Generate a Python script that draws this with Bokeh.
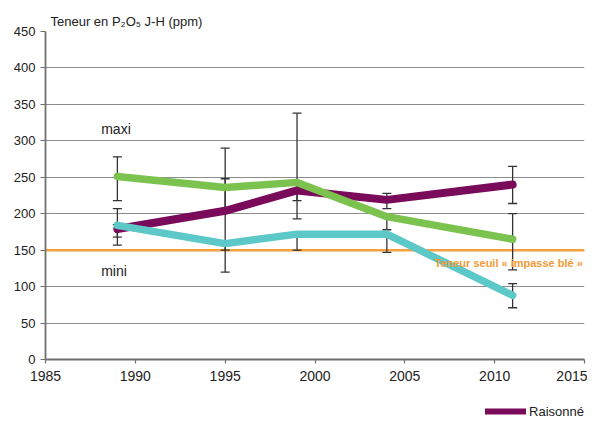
from bokeh.plotting import figure
from bokeh.layouts import column
from bokeh.models import (Range1d, FixedTicker, Span, Label, Legend, LegendItem,
                          Whisker, ColumnDataSource, TeeHead)
from bokeh.embed import file_html
from bokeh.resources import INLINE

# ---- data ----
years = [1989, 1995, 1999, 2004, 2011]
raisonne = [179, 204, 232, 219, 240]          # purple
green_series = [251, 236, 243, 196, 165]      # green
cyan_series = [184, 159, 172, 172, 88]        # cyan

raisonne_low = [168, 150, 193, 207, 214]
raisonne_high = [207, 248, 245, 228, 265]
green_low = [218, 205, 218, 178, 123]
green_high = [278, 290, 338, 198, 200]
cyan_low = [157, 120, 150, 147, 71]
cyan_high = [185, 160, 175, 172, 104]

threshold = 150
threshold_label = "Teneur seuil « impasse blé »"
y_title = "Teneur en P₂O₅ J-H (ppm)"
legend_label = "Raisonné"
x_ticks = [1985, 1990, 1995, 2000, 2005, 2010, 2015]
y_ticks = [0, 50, 100, 150, 200, 250, 300, 350, 400, 450]

FONT = "Liberation Sans"
PURPLE = "#7a0a5a"
GREEN = "#7cc24e"
CYAN = "#5cc8c8"
ORANGE = "#f6a03e"
AXIS = "#707070"
TXT = "#222222"

p = figure(frame_width=539, frame_height=328, output_backend="svg", toolbar_location=None,
           x_range=Range1d(1985, 2015), y_range=Range1d(0, 450),
           min_border_left=45, min_border_right=3, min_border_top=31,
           min_border_bottom=0)
p.title.text = y_title
p.title.text_font = FONT
p.title.text_font_size = "13px"
p.title.text_font_style = "normal"
p.title.text_color = TXT
p.title.align = "left"
p.title.offset = 5
p.title.standoff = 5
p.outline_line_color = None
p.background_fill_color = "white"

# grid
p.xgrid.grid_line_color = None
p.ygrid.grid_line_color = "#8c8c8c"
p.ygrid.grid_line_width = 1.2

# axes
p.xaxis.ticker = FixedTicker(ticks=x_ticks)
p.yaxis.ticker = FixedTicker(ticks=y_ticks)
for ax in (p.xaxis[0], p.yaxis[0]):
    ax.axis_line_color = AXIS
    ax.axis_line_width = 1.8
    ax.major_tick_line_color = AXIS
    ax.major_tick_line_width = 1.2
    ax.major_tick_in = 0
    ax.minor_tick_line_color = None
    ax.major_label_text_font = FONT
    ax.major_label_text_color = TXT
p.xaxis.major_tick_out = 4
p.yaxis.major_tick_out = 5
p.xaxis.major_label_text_font_size = "14px"
p.yaxis.major_label_text_font_size = "13px"
p.xaxis.major_label_standoff = 7
p.yaxis.major_label_standoff = 5

# threshold line
p.add_layout(Span(location=threshold, dimension="width", line_color=ORANGE,
                  line_width=2.5, level="underlay"))

# error bars
for lo, hi in ((raisonne_low, raisonne_high), (green_low, green_high), (cyan_low, cyan_high)):
    src = ColumnDataSource(dict(x=years, lo=lo, hi=hi))
    w = Whisker(source=src, base="x", lower="lo", upper="hi", dimension="height",
                line_color="#333333", line_width=1.3, level="underlay",
                upper_head=TeeHead(size=9, line_color="#333333", line_width=1.3),
                lower_head=TeeHead(size=9, line_color="#333333", line_width=1.3))
    p.add_layout(w)

# series
p.line(years, raisonne, line_color=PURPLE, line_width=8,
       line_cap="round", line_join="round")
p.line(years, green_series, line_color=GREEN, line_width=7.5,
       line_cap="round", line_join="round")
p.line(years, cyan_series, line_color=CYAN, line_width=7.5,
       line_cap="round", line_join="round")

# annotations
p.add_layout(Label(x=1988.1, y=316, text="maxi", text_font=FONT, text_font_size="14px",
                   text_color=TXT, text_baseline="middle"))
p.add_layout(Label(x=1988.1, y=122, text="mini", text_font=FONT, text_font_size="14px",
                   text_color=TXT, text_baseline="middle"))
p.add_layout(Label(x=2006.65, y=132, text=threshold_label, text_font=FONT,
                   text_font_size="11px", text_font_style="bold",
                   text_color="#f39a36", text_baseline="middle"))

# ---- legend strip below the chart ----
# (the series is plotted again here, outside this strip's visible range,
#  only so that the legend has a renderer to draw its swatch from)
leg = figure(frame_width=539, frame_height=36, output_backend="svg", toolbar_location=None,
             x_range=Range1d(0, 1), y_range=Range1d(0, 1),
             x_axis_location=None, y_axis_location=None,
             min_border_left=45, min_border_right=3, min_border_top=0,
             min_border_bottom=0)
leg.outline_line_color = None
leg.xgrid.grid_line_color = None
leg.ygrid.grid_line_color = None
r_leg = leg.line(years, raisonne, line_color=PURPLE, line_width=6, line_cap="round")
legend = Legend(items=[LegendItem(label=legend_label, renderers=[r_leg])],
                location="bottom_right", orientation="horizontal",
                padding=0, margin=0, spacing=0,
                glyph_width=41, glyph_height=16, label_height=16, label_standoff=3,
                label_text_font=FONT, label_text_font_size="13px",
                label_text_color=TXT, background_fill_alpha=0,
                border_line_alpha=0)
leg.add_layout(legend)

layout = column(p, leg, spacing=0)
open("out.html", "w").write(file_html(layout, INLINE))
